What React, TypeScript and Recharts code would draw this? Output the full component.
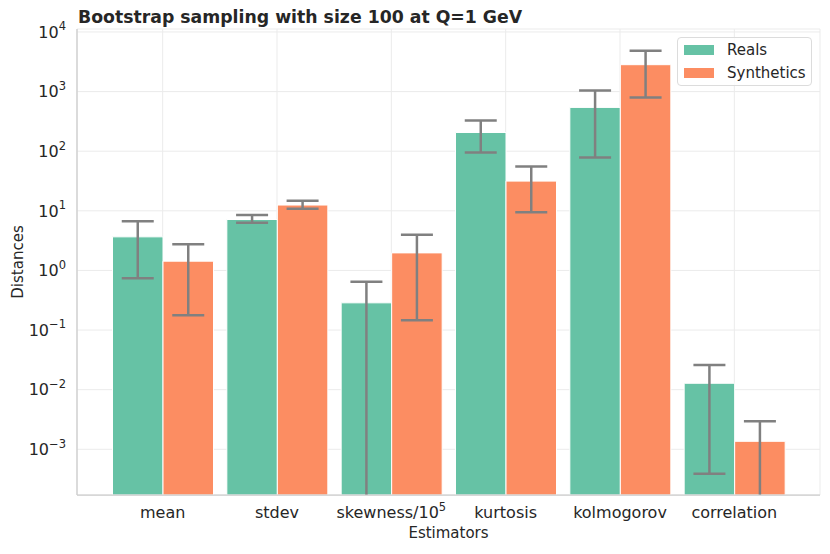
import React from 'react';
import { BarChart, Bar, XAxis, YAxis, CartesianGrid, ErrorBar, Legend } from 'recharts';

const categories = ['mean', 'stdev', 'skewness/10^5', 'kurtosis', 'kolmogorov', 'correlation'];
const realValues = [3.66, 7.15, 0.286, 206, 543, 0.0128];
const realLower = [0.74, 6.29, 1e-6, 95.3, 78.5, 0.00039];
const realUpper = [6.7, 8.47, 0.643, 328, 1047, 0.026];
const synthValues = [1.43, 12.5, 1.97, 31.5, 2826, 0.00136];
const synthLower = [0.177, 10.8, 0.146, 9.5, 798, 1e-6];
const synthUpper = [2.76, 14.7, 3.95, 55.5, 4850, 0.00295];
const yTicks = [1e-3, 1e-2, 1e-1, 1, 10, 100, 1000, 10000];
const yDomain = [1.71e-4, 11220];

const seriesNames = ['Reals', 'Synthetics'];
const seriesColors = ['#66c2a5', '#fc8d62'];

const data = categories.map((name, i) => ({
  name,
  reals: realValues[i],
  realsErr: [realValues[i] - realLower[i], realUpper[i] - realValues[i]],
  synth: synthValues[i],
  synthErr: [synthValues[i] - synthLower[i], synthUpper[i] - synthValues[i]],
}));

const FONT = 'DejaVu Sans';
const TXT = '#262626';

const YTick = (props: any) => {
  const { x, y, payload } = props;
  const exp = Math.round(Math.log10(payload.value));
  const s = exp < 0 ? '\u2212' + -exp : String(exp);
  return (
    <text x={x} y={y} textAnchor="end" fontSize={16} fill={TXT} fontFamily={FONT} dy={5.8}>
      10
      <tspan dy={-7.5} fontSize={11.5}>{s}</tspan>
    </text>
  );
};

const XTick = (props: any) => {
  const { x, y, payload } = props;
  const v: string = payload.value;
  const parts = v.split('^');
  return (
    <text x={x} y={y + 23} textAnchor="middle" fontSize={16} fill={TXT} fontFamily={FONT}>
      {parts[0]}
      {parts[1] ? <tspan dy={-7.5} fontSize={11.5}>{parts[1]}</tspan> : null}
    </text>
  );
};

const LegendContent = () => (
  <div
    style={{
      boxSizing: 'border-box',
      width: 135,
      height: 49,
      border: '1px solid #dcdcdc',
      borderRadius: 4,
      background: 'rgba(255,255,255,0.8)',
      fontFamily: FONT,
      fontSize: 15,
      color: TXT,
      position: 'relative',
    }}
  >
    {seriesNames.map((n, i) => (
      <div key={n} style={{ position: 'absolute', left: 6, top: 7 + i * 23, height: 10, display: 'flex', alignItems: 'center' }}>
        <div style={{ width: 30, height: 10, background: seriesColors[i] }} />
        <span style={{ marginLeft: 13, lineHeight: '10px' }}>{n}</span>
      </div>
    ))}
  </div>
);

export default function App() {
  return (
    <div style={{ position: 'absolute', left: 0, top: 0, width: 830, height: 554, background: '#fff' }}>
      <style>{'.recharts-errorBars{clip-path:url(#plot-clip);}'}</style>
      <BarChart
        width={830}
        height={554}
        data={data}
        margin={{ top: 29, right: 10, bottom: 0, left: 0 }}
        barGap={0}
        barSize={50.5}
      >
        <defs>
          <clipPath id="plot-clip">
            <rect x={77} y={29} width={743} height={466} />
          </clipPath>
        </defs>
        <text x={78} y={23} fontFamily={FONT} fontWeight="bold" fontSize={17.3} fill={TXT}>
          Bootstrap sampling with size 100 at Q=1 GeV
        </text>
        <CartesianGrid stroke="#ebebeb" strokeWidth={1} />
        <XAxis
          dataKey="name"
          height={59}
          padding={{ left: 28.5, right: 28.5 }}
          tickSize={0}
          tickMargin={0}
          tick={<XTick />}
          interval={0}
          axisLine={{ stroke: '#cccccc', strokeWidth: 1.25 }}
          tickLine={false}
          label={{
            content: (p: any) => {
              const vb = p.viewBox || { x: 77, width: 743 };
              return (
                <text x={vb.x + vb.width / 2} y={538} textAnchor="middle" fontSize={15} fill={TXT} fontFamily={FONT}>
                  Estimators
                </text>
              );
            },
          }}
        />
        <XAxis
          xAxisId="top"
          orientation="top"
          dataKey="name"
          height={0}
          tick={false}
          tickLine={false}
          axisLine={{ stroke: '#cccccc', strokeWidth: 1.25 }}
        />
        <YAxis
          scale="log"
          domain={yDomain}
          ticks={yTicks}
          allowDataOverflow
          width={77}
          tickSize={0}
          tickMargin={11}
          tick={<YTick />}
          tickLine={false}
          interval={0}
          axisLine={{ stroke: '#cccccc', strokeWidth: 1.25 }}
          label={{
            content: () => (
              <text x={23} y={262} transform="rotate(-90 23 262)" textAnchor="middle" fontSize={15} fill={TXT} fontFamily={FONT}>
                Distances
              </text>
            ),
          }}
        />
        <YAxis
          yAxisId="right"
          orientation="right"
          width={0}
          tick={false}
          tickLine={false}
          axisLine={{ stroke: '#cccccc', strokeWidth: 1.25 }}
        />
        <Legend
          layout="horizontal"
          verticalAlign="middle"
          align="center"
          content={<LegendContent />}
          wrapperStyle={{ left: 677, top: 37, width: 135, height: 49 }}
        />
        <Bar dataKey="reals" name={seriesNames[0]} fill={seriesColors[0]} stroke="#ffffff" strokeWidth={1} isAnimationActive={false}>
          <ErrorBar dataKey="realsErr" direction="y" width={16} stroke="#808080" strokeWidth={2.5} />
        </Bar>
        <Bar dataKey="synth" name={seriesNames[1]} fill={seriesColors[1]} stroke="#ffffff" strokeWidth={1} isAnimationActive={false}>
          <ErrorBar dataKey="synthErr" direction="y" width={16} stroke="#808080" strokeWidth={2.5} />
        </Bar>
      </BarChart>
    </div>
  );
}
